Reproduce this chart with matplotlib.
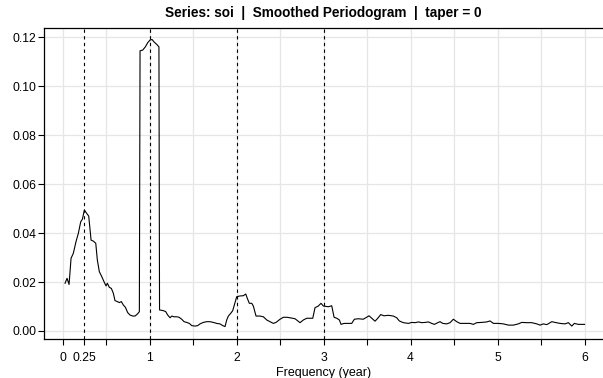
import matplotlib
matplotlib.use("Agg")
import matplotlib.pyplot as plt
import numpy as np

plt.rcParams['font.family'] = ['Liberation Sans', 'DejaVu Sans']

freq = [0.029, 0.052, 0.075, 0.098, 0.124, 0.155, 0.182, 0.209, 0.228, 0.251,
        0.278, 0.301, 0.328, 0.354, 0.382, 0.400, 0.423, 0.451, 0.477, 0.500,
        0.515, 0.538, 0.561, 0.584, 0.603, 0.630, 0.653, 0.676, 0.699, 0.722,
        0.749, 0.776, 0.807, 0.833, 0.860, 0.883, 0.891, 0.922, 0.952, 0.979,
        1.006, 1.029, 1.052, 1.083, 1.108, 1.115, 1.159, 1.186, 1.209, 1.236,
        1.256, 1.282, 1.313, 1.339, 1.370, 1.397, 1.428, 1.457, 1.485, 1.523,
        1.554, 1.580, 1.618, 1.657, 1.695, 1.733, 1.772, 1.810, 1.841, 1.868,
        1.887, 1.906, 1.933, 1.956, 1.975, 2.002, 2.040, 2.078, 2.106, 2.124,
        2.147, 2.175, 2.193, 2.224, 2.270, 2.308, 2.347, 2.385, 2.423, 2.454,
        2.500, 2.538, 2.577, 2.615, 2.672, 2.730, 2.768, 2.807, 2.876, 2.902,
        2.940, 2.971, 2.998, 3.055, 3.094, 3.121, 3.152, 3.182, 3.201, 3.236,
        3.324, 3.354, 3.400, 3.457, 3.523, 3.554, 3.592, 3.623, 3.657, 3.695,
        3.745, 3.802, 3.841, 3.871, 3.917, 3.975, 4.014, 4.052, 4.090, 4.129,
        4.167, 4.205, 4.244, 4.274, 4.313, 4.339, 4.370, 4.416, 4.454, 4.492,
        4.531, 4.569, 4.626, 4.684, 4.722, 4.761, 4.818, 4.876, 4.914, 4.952,
        5.009, 5.067, 5.124, 5.182, 5.239, 5.278, 5.336, 5.393, 5.451, 5.489,
        5.526, 5.566, 5.623, 5.661, 5.718, 5.776, 5.814, 5.853, 5.883, 5.929,
        6.000]

spec = [0.0195, 0.0215, 0.0190, 0.0297, 0.0317, 0.0365, 0.0399, 0.0446, 0.0456, 0.0494,
        0.0480, 0.0469, 0.0371, 0.0367, 0.0358, 0.0290, 0.0242, 0.0222, 0.0201, 0.0184,
        0.0195, 0.0178, 0.0174, 0.0154, 0.0124, 0.0120, 0.0116, 0.0120, 0.0106, 0.0097,
        0.0075, 0.0065, 0.0061, 0.0061, 0.0069, 0.0079, 0.1144, 0.1147, 0.1160, 0.1177,
        0.1188, 0.1190, 0.1180, 0.1170, 0.1160, 0.0086, 0.0083, 0.0079, 0.0065, 0.0054,
        0.0061, 0.0058, 0.0058, 0.0056, 0.0048, 0.0038, 0.0035, 0.0031, 0.0022, 0.0020,
        0.0022, 0.0029, 0.0035, 0.0038, 0.0038, 0.0035, 0.0031, 0.0029, 0.0022, 0.0018,
        0.0045, 0.0061, 0.0072, 0.0083, 0.0106, 0.0140, 0.0143, 0.0144, 0.0151, 0.0133,
        0.0113, 0.0113, 0.0102, 0.0061, 0.0061, 0.0058, 0.0045, 0.0038, 0.0031, 0.0035,
        0.0048, 0.0056, 0.0056, 0.0054, 0.0050, 0.0034, 0.0045, 0.0052, 0.0052, 0.0095,
        0.0102, 0.0113, 0.0102, 0.0099, 0.0103, 0.0056, 0.0052, 0.0045, 0.0027, 0.0031,
        0.0031, 0.0048, 0.0050, 0.0048, 0.0062, 0.0052, 0.0040, 0.0052, 0.0067, 0.0062,
        0.0064, 0.0061, 0.0054, 0.0041, 0.0034, 0.0031, 0.0035, 0.0034, 0.0037, 0.0034,
        0.0035, 0.0037, 0.0031, 0.0027, 0.0034, 0.0038, 0.0031, 0.0029, 0.0034, 0.0048,
        0.0038, 0.0031, 0.0031, 0.0031, 0.0027, 0.0034, 0.0035, 0.0037, 0.0041, 0.0031,
        0.0031, 0.0029, 0.0024, 0.0024, 0.0029, 0.0035, 0.0034, 0.0034, 0.0029, 0.0024,
        0.0029, 0.0026, 0.0038, 0.0035, 0.0031, 0.0029, 0.0034, 0.0020, 0.0031, 0.0027,
        0.0027]

ref_lines = [0.25, 1, 2, 3]
xtick_pos = [0, 0.25, 1, 2, 3, 4, 5, 6]
xtick_labels = ["0", "0.25", "1", "2", "3", "4", "5", "6"]
ytick_pos = [0.00, 0.02, 0.04, 0.06, 0.08, 0.10, 0.12]
ytick_labels = ["0.00", "0.02", "0.04", "0.06", "0.08", "0.10", "0.12"]

W, H = 603, 378
fig = plt.figure(figsize=(W / 100, H / 100), dpi=100)
ax = fig.add_axes([44 / W, 1 - 339 / H, (603 - 44) / W, (339 - 28) / H])

ax.set_xlim(-0.213, 6.212)
ax.set_ylim(-0.00327, 0.1237)

# grid
for gx in np.arange(0, 6.01, 0.5):
    ax.axvline(gx, color='#e6e6e6', lw=0.9, zorder=0)
for gy in ytick_pos:
    ax.axhline(gy, color='#e6e6e6', lw=0.9, zorder=0)

for rl in ref_lines:
    ax.axvline(rl, color='black', lw=0.8, ls=(0, (3, 3)), zorder=1)

ax.plot(freq, spec, color='black', lw=0.8, zorder=2)

ax.spines['right'].set_visible(False)
for s in ['left', 'top', 'bottom']:
    ax.spines[s].set_linewidth(0.9)

ax.set_xticks(xtick_pos)
ax.set_xticklabels(xtick_labels)
ax.set_xticks([0.5, 1.5, 2.5, 3.5, 4.5, 5.5], minor=True)
ax.set_yticks(ytick_pos)
ax.set_yticklabels(ytick_labels)
ax.tick_params(axis='both', which='both', direction='out', length=4, width=0.8,
               labelsize=8.7, colors='black')
ax.tick_params(axis='y', pad=1.5)
ax.tick_params(axis='x', pad=5.5)

ax.set_xlabel("Frequency (year)", fontsize=9, labelpad=2)
ax.set_title("Series: soi  |  Smoothed Periodogram  |  taper = 0",
             fontsize=9.8, fontweight='bold', pad=8)

fig.savefig("out.png", dpi=100)
